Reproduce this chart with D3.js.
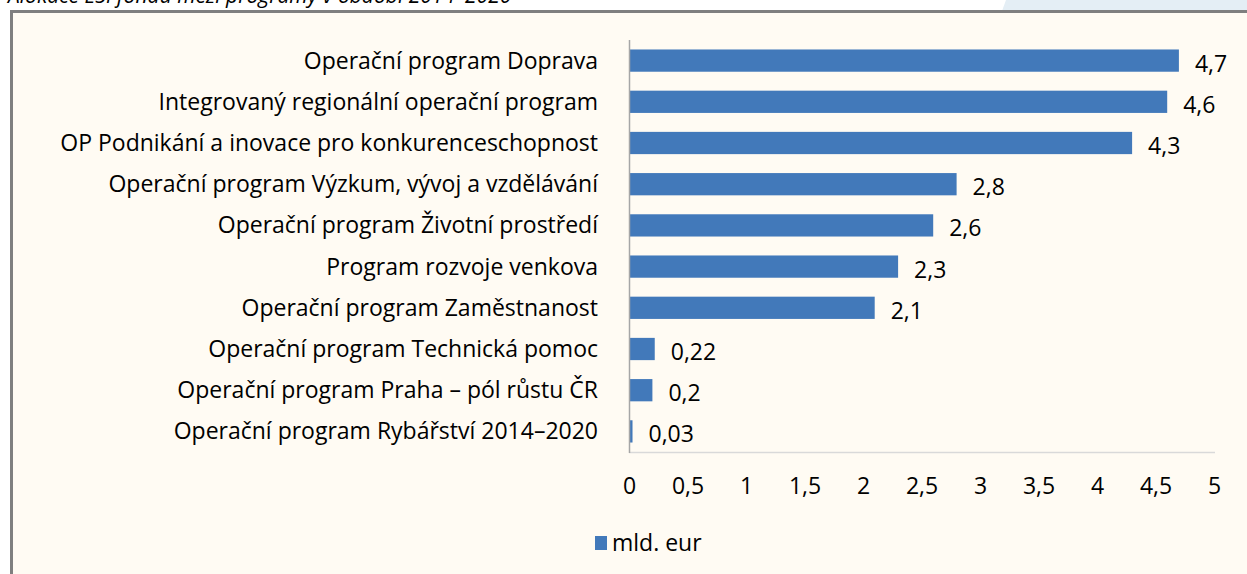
<!DOCTYPE html>
<html><head><meta charset="utf-8">
<script src="https://cdn.jsdelivr.net/npm/d3@7"></script>
<style>body{margin:0;background:#fff;overflow:hidden}</style>
</head><body>
<svg id="c" width="1247" height="574"></svg>
<script>
const categories = [
  "Operační program Doprava",
  "Integrovaný regionální operační program",
  "OP Podnikání a inovace pro konkurenceschopnost",
  "Operační program Výzkum, vývoj a vzdělávání",
  "Operační program Životní prostředí",
  "Program rozvoje venkova",
  "Operační program Zaměstnanost",
  "Operační program Technická pomoc",
  "Operační program Praha – pól růstu ČR",
  "Operační program Rybářství 2014–2020"
];
const values = [4.7, 4.6, 4.3, 2.8, 2.6, 2.3, 2.1, 0.22, 0.2, 0.03];
const valueLabels = ["4,7","4,6","4,3","2,8","2,6","2,3","2,1","0,22","0,2","0,03"];
const xTicks = [0, 0.5, 1, 1.5, 2, 2.5, 3, 3.5, 4, 4.5, 5];
const seriesName = "mld. eur";
const title = "Alokace ESI fondů mezi programy v období 2014–2020";

const svg = d3.select("#c");
const font = "'Open Sans', sans-serif";
const fs = 23;

// light blue decoration top right
svg.append("path").attr("d","M1006,0 L1247,0 L1247,11 L1002,11 Z").attr("fill","#e4eef5");
// frame
svg.append("rect").attr("x",11.5).attr("y",11.5).attr("width",1260).attr("height",600)
  .attr("fill","#fffbf3").attr("stroke","#7f7f7f").attr("stroke-width",3);

svg.append("text").attr("x",8).attr("y",3).attr("font-family",font).attr("font-style","italic")
  .attr("font-size",21).attr("fill","#000").text(title);

const x = d3.scaleLinear().domain([0,5]).range([629,1214]);
const y = d3.scaleBand().domain(categories).range([40,452]).paddingInner(0.46).paddingOuter(0.23);

const g = svg.append("g").attr("font-family",font);

// bottom border of plot
g.append("line").attr("x1",629).attr("x2",1215).attr("y1",452.5).attr("y2",452.5)
  .attr("stroke","#d9d9d9").attr("stroke-width",1.5);

g.selectAll("rect.bar").data(values).join("rect").attr("class","bar")
  .attr("x",x(0)).attr("y",(d,i)=>y(categories[i]))
  .attr("width",d=>Math.max(x(d)-x(0),1.5)).attr("height",y.bandwidth())
  .attr("fill","#4279ba");

// left axis line
g.append("line").attr("x1",629.5).attr("x2",629.5).attr("y1",40).attr("y2",453)
  .attr("stroke","#a6a6a6").attr("stroke-width",1.5);

g.selectAll("text.cat").data(categories).join("text").attr("class","cat")
  .attr("x",598).attr("y",d=>y(d)+y.bandwidth()/2).attr("dy","0.35em")
  .attr("text-anchor","end").attr("font-size",fs).attr("fill","#000").text(d=>d);

g.selectAll("text.val").data(values).join("text").attr("class","val")
  .attr("x",d=>x(d)+16).attr("y",(d,i)=>y(categories[i])+y.bandwidth()/2+3).attr("dy","0.35em")
  .attr("font-size",fs).attr("fill","#000").text((d,i)=>valueLabels[i]);

const xAxis = d3.axisBottom(x).tickValues(xTicks).tickSize(0).tickPadding(0)
  .tickFormat(d=>String(d).replace(".",","));
const ax = g.append("g").attr("transform","translate(0,478)").call(xAxis);
ax.select(".domain").remove();
ax.selectAll("text").attr("font-size",fs).attr("font-family",font).attr("fill","#000");

// legend
const lg = g.append("g").attr("transform","translate(595,536)");
lg.append("rect").attr("width",12).attr("height",14).attr("fill","#4279ba");
lg.append("text").attr("x",17).attr("y",7).attr("dy","0.35em").attr("font-size",fs).attr("fill","#000").text(seriesName);
</script>
</body></html>
